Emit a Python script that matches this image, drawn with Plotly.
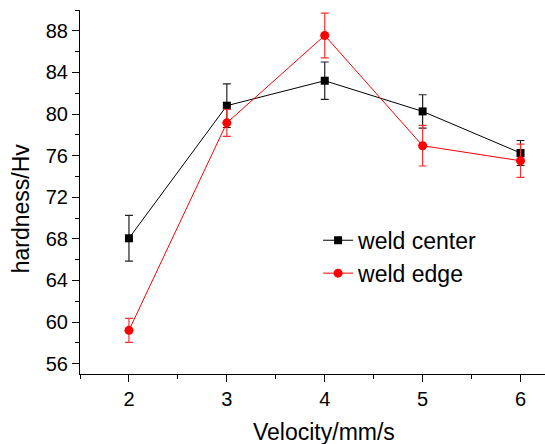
import plotly.graph_objects as go

velocity = [2, 3, 4, 5, 6]
center = [68.05, 80.8, 83.2, 80.25, 76.25]
center_err = [2.2, 2.1, 1.8, 1.6, 1.2]
edge = [59.2, 79.15, 87.55, 76.95, 75.5]
edge_err = [1.15, 1.3, 2.15, 1.95, 1.6]
y_ticks = [56, 60, 64, 68, 72, 76, 80, 84, 88]

font = "Liberation Sans, Arial, sans-serif"

fig = go.Figure()
fig.add_trace(go.Scatter(
    x=velocity, y=center, name="weld center", mode="lines+markers",
    line=dict(color="black", width=1),
    marker=dict(symbol="square", size=8, color="black"),
    error_y=dict(type="data", array=center_err, visible=True, color="#222222", thickness=1.2, width=4),
))
fig.add_trace(go.Scatter(
    x=velocity, y=edge, name="weld edge", mode="lines+markers",
    line=dict(color="red", width=1),
    marker=dict(symbol="circle", size=9, color="red"),
    error_y=dict(type="data", array=edge_err, visible=True, color="#ff3030", thickness=1.2, width=4),
))

fig.update_layout(
    width=545, height=444,
    margin=dict(l=80, r=0, t=10, b=70),
    plot_bgcolor="white", paper_bgcolor="white",
    font=dict(family=font, size=20, color="black"),
    showlegend=True,
    legend=dict(x=0.512, y=0.322, xanchor="left", yanchor="middle",
                font=dict(size=23), bgcolor="rgba(0,0,0,0)", tracegroupgap=0),
    annotations=[
        dict(text="Velocity/mm/s", xref="paper", yref="paper", x=0.525, y=-0.158,
             xanchor="center", yanchor="middle", showarrow=False, font=dict(size=23)),
        dict(text="hardness/Hv", xref="paper", yref="paper", x=-0.125, y=0.455,
             xanchor="center", yanchor="middle", showarrow=False, textangle=-90, font=dict(size=23)),
    ],
)
fig.update_xaxes(
    range=[1.5, 6.25], tickvals=velocity, showline=True, linecolor="black", linewidth=1,
    ticks="outside", ticklen=7, tickwidth=1, tickcolor="black",
    minor=dict(dtick=0.5, tick0=0, ticks="outside", ticklen=4, tickcolor="black"),
    showgrid=False, zeroline=False, automargin=False,
)
fig.update_yaxes(
    range=[55, 90], tickvals=y_ticks, showline=True, linecolor="black", linewidth=1,
    ticks="outside", ticklen=7, tickwidth=1, tickcolor="black",
    minor=dict(dtick=2, tick0=0, ticks="outside", ticklen=4, tickcolor="black"),
    showgrid=False, zeroline=False, automargin=False,
)

fig.write_html("out.html", config={"displayModeBar": False},
               post_script="document.body.style.margin='0';document.body.style.overflow='hidden';")
